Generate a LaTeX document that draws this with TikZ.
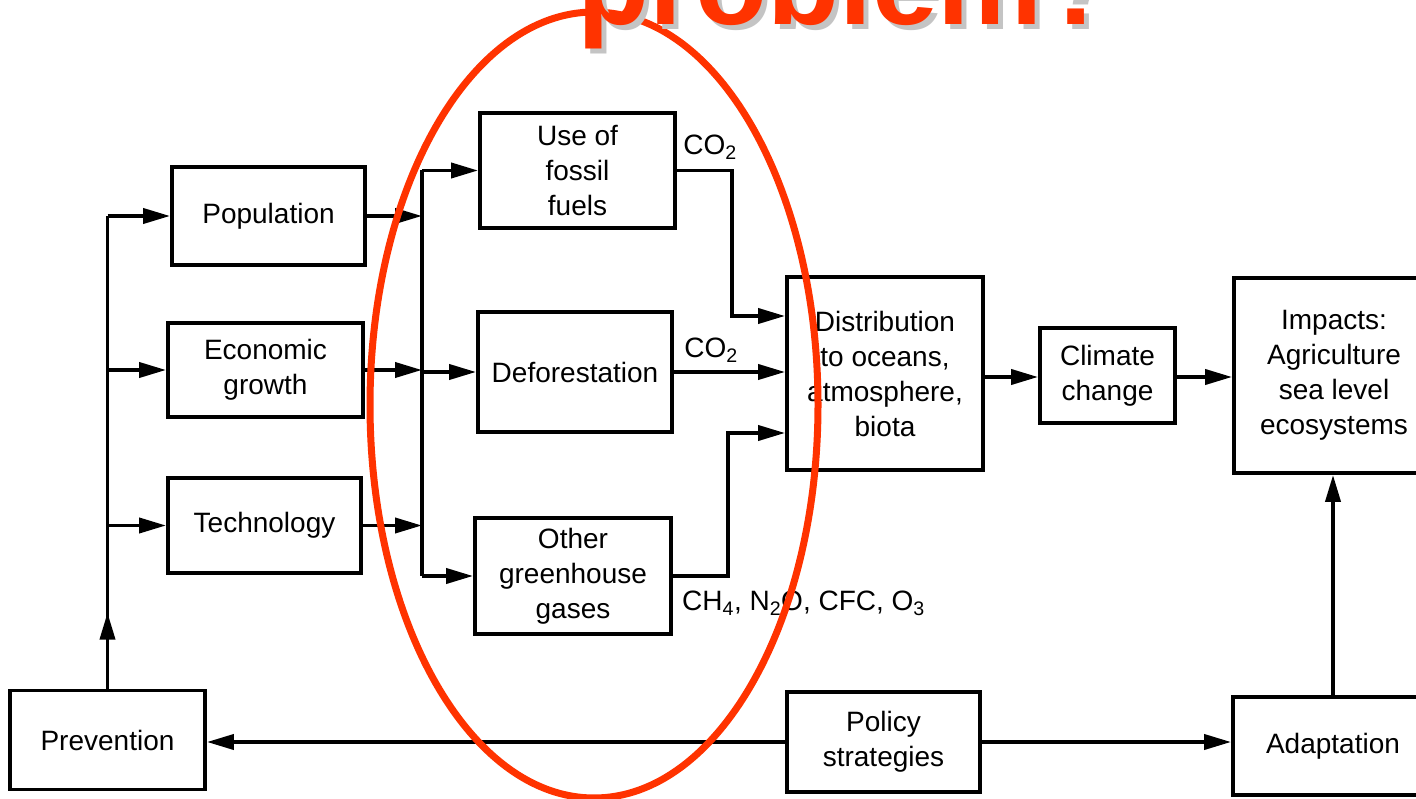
\documentclass[tikz,border=0pt]{standalone}
\usepackage{fontspec}
\setmainfont{Liberation Sans}
\usetikzlibrary{arrows.meta}
\definecolor{redline}{HTML}{FF3300}
\definecolor{shadowgray}{HTML}{C4C4C4}
\begin{document}
\begin{tikzpicture}[x=1pt,y=-1pt,
  box/.style={draw, line width=3.8pt, inner sep=0pt, align=center, font=\fontsize{28}{35}\selectfont},
  line/.style={line width=3.8pt},
  arr/.style={line width=3.8pt, -{Triangle[length=27pt,width=15pt]}},
  lbl/.style={inner sep=0pt, font=\fontsize{28}{35}\selectfont},
  titlefont/.style={inner sep=0pt, anchor=base west, font=\fontsize{118}{118}\selectfont\bfseries}]
\useasboundingbox (0,0) rectangle (1416,799);
\clip (0,0) rectangle (1416,799);
\fill[white] (0,0) rectangle (1416,799);

% boxes
\node[box, minimum width=193pt, minimum height=98pt] (pop) at (268.5,216) {Population};
\node[box, minimum width=195pt, minimum height=94pt] (eco) at (265.5,370) {Economic\\growth};
\node[box, minimum width=193pt, minimum height=95pt] (tech) at (264.5,525.5) {Technology};
\node[box, minimum width=195pt, minimum height=99pt] (prev) at (107.5,740) {Prevention};
\node[box, minimum width=195pt, minimum height=115pt] (fos) at (577.5,170.5) {Use of\\fossil\\fuels};
\node[box, minimum width=194pt, minimum height=120pt] (def) at (575,372) {Deforestation};
\node[box, minimum width=196pt, minimum height=116pt] (oth) at (573,576) {Other\\greenhouse\\gases};
\node[box, minimum width=196pt, minimum height=193pt] (dist) at (885,373.5) {Distribution\\to oceans,\\atmosphere,\\biota};
\node[box, minimum width=135pt, minimum height=95pt] (clim) at (1107.5,375.5) {Climate\\change};
\node[box, minimum width=200pt, minimum height=195pt] (imp) at (1334,375.5) {Impacts:\\Agriculture\\sea level\\ecosystems};
\node[box, minimum width=200pt, minimum height=98pt] (adap) at (1333,746) {Adaptation};
\node[box, minimum width=193pt, minimum height=100pt] (pol) at (883.5,742) {Policy\\strategies};

% labels
\node[lbl] (co2a) at (710,147) {CO\textsubscript{2}};
\node[lbl] (co2b) at (711,350) {CO\textsubscript{2}};
\node[lbl, anchor=west] (gases) at (682,603) {CH\textsubscript{4}, N\textsubscript{2}O, CFC, O\textsubscript{3}};

% junction coordinates
\coordinate (coll) at (422,0);
\coordinate (j1) at (732,316);
\coordinate (j3) at (728,433);

% left trunk
\draw[line] (prev.north) -- (prev.north |- pop.west);
\draw[arr] (prev.north) -- ++(0,-76);
\draw[arr] (prev.north |- pop.west) -- (pop.west);
\draw[arr] (prev.north |- eco.west) -- (eco.west);
\draw[arr] (prev.north |- tech.west) -- (tech.west);

% collector
\draw[arr] (pop.east) -- (coll |- pop.east);
\draw[arr] (eco.east) -- (coll |- eco.east);
\draw[arr] (tech.east) -- (coll |- tech.east);
\draw[line] (coll |- fos.west) -- (coll |- oth.west);
\draw[arr] (coll |- fos.west) -- (fos.west);
\draw[arr] (coll |- def.west) -- (def.west);
\draw[arr] (coll |- oth.west) -- (oth.west);

% outputs to distribution
\draw[arr] (fos.east) -| (j1) -- (dist.west |- j1);
\draw[arr] (def.east) -- (dist.west |- def.east);
\draw[arr] (oth.east) -| (j3) -- (dist.west |- j3);

% chain
\draw[arr] (dist.east |- 0,377) -- (clim.west |- 0,377);
\draw[arr] (clim.east |- 0,377) -- (imp.west |- 0,377);
\draw[arr] (adap.north) -- (adap.north |- imp.south);

% policy
\draw[arr] (pol.west) -- (pol.west -| prev.east);
\draw[arr] (pol.east) -- (pol.east -| adap.west);

% red ellipse
\draw[redline, line width=7pt] (594,405) ellipse [x radius=224, y radius=393];

% title
\node[titlefont, text=shadowgray] (titleshadow) at (582,30) {problem?};
\node[titlefont, text=redline] (title) at (577,25) {problem?};
\end{tikzpicture}
\end{document}
